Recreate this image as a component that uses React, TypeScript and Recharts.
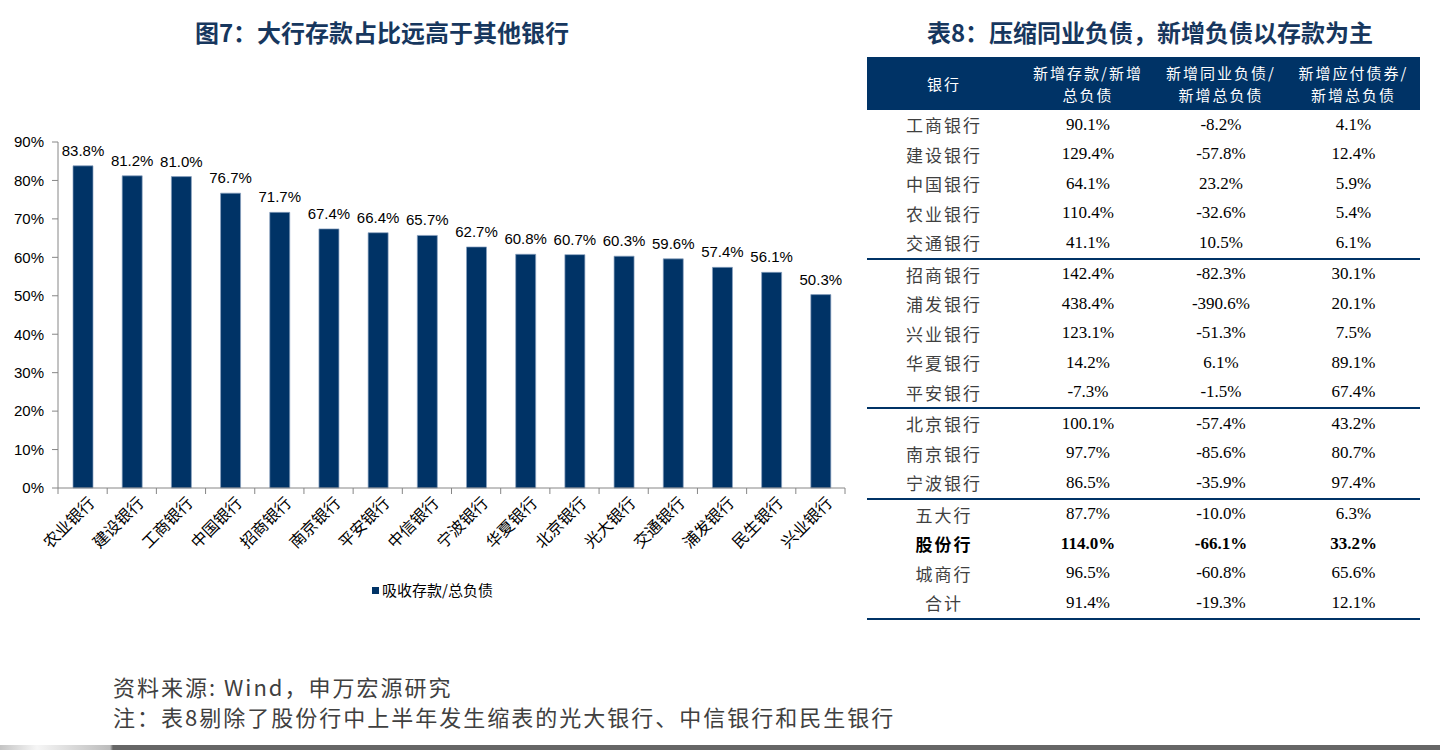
import React from "react";
import { BarChart, Bar, XAxis, YAxis, LabelList } from "recharts";

const categories = [
  "农业银行", "建设银行", "工商银行", "中国银行", "招商银行", "南京银行", "平安银行", "中信银行",
  "宁波银行", "华夏银行", "北京银行", "光大银行", "交通银行", "浦发银行", "民生银行", "兴业银行",
];
const depositShare = [83.8, 81.2, 81.0, 76.7, 71.7, 67.4, 66.4, 65.7, 62.7, 60.8, 60.7, 60.3, 59.6, 57.4, 56.1, 50.3];
const yTicks = [0, 10, 20, 30, 40, 50, 60, 70, 80, 90];
const seriesName = "吸收存款/总负债";

const tableHeaders = [["银行"], ["新增存款/新增", "总负债"], ["新增同业负债/", "新增总负债"], ["新增应付债券/", "新增总负债"]];
const tableGroups = [
  ["工商银行", "建设银行", "中国银行", "农业银行", "交通银行"],
  ["招商银行", "浦发银行", "兴业银行", "华夏银行", "平安银行"],
  ["北京银行", "南京银行", "宁波银行"],
  ["五大行", "股份行", "城商行", "合计"],
];
const newDeposit = [90.1, 129.4, 64.1, 110.4, 41.1, 142.4, 438.4, 123.1, 14.2, -7.3, 100.1, 97.7, 86.5, 87.7, 114.0, 96.5, 91.4];
const newInterbank = [-8.2, -57.8, 23.2, -32.6, 10.5, -82.3, -390.6, -51.3, 6.1, -1.5, -57.4, -85.6, -35.9, -10.0, -66.1, -60.8, -19.3];
const newBonds = [4.1, 12.4, 5.9, 5.4, 6.1, 30.1, 20.1, 7.5, 89.1, 67.4, 43.2, 80.7, 97.4, 6.3, 33.2, 65.6, 12.1];
const boldRows = ["股份行"];

const NAVY = "#003366";
const AXIS = "#868686";
const CHART_W = 860;
const Y_AXIS_W = 58;
const MARGIN_R = 15;
const BAND = (CHART_W - Y_AXIS_W - MARGIN_R) / categories.length;
const COL_W = [154, 134, 132, 133];

const chartData = categories.map((bank, i) => ({ bank, share: depositShare[i] }));
const pct = (v: number) => `${v.toFixed(1)}%`;

function BankTick(props: any) {
  const { x, y, payload, index } = props;
  const last = index === categories.length - 1;
  return (
    <g>
      <line x1={x - BAND / 2} y1={y} x2={x - BAND / 2} y2={y + 6} stroke={AXIS} />
      {last && <line x1={x + BAND / 2} y1={y} x2={x + BAND / 2} y2={y + 6} stroke={AXIS} />}
      <g transform={`translate(${x + 9},${y + 12})`}>
        <text
          transform="rotate(-45)"
          textAnchor="end"
          dy="0.35em"
          fontSize={16}
          fill="#000"
          fontFamily="'Noto Sans CJK SC', sans-serif"
        >
          {payload.value}
        </text>
      </g>
    </g>
  );
}

function DataTable() {
  let rowIdx = 0;
  return (
    <div style={{ position: "absolute", left: 867, top: 57, width: 553 }}>
      <div style={{ display: "flex", height: 53, background: NAVY, color: "#fff" }}>
        {tableHeaders.map((lines, i) => (
          <div
            key={i}
            style={{
              width: COL_W[i],
              display: "flex",
              flexDirection: "column",
              justifyContent: "center",
              alignItems: "center",
              fontSize: 15,
              lineHeight: "22px",
              letterSpacing: 2,
            }}
          >
            {lines.map((l) => (
              <div key={l}>{l}</div>
            ))}
          </div>
        ))}
      </div>
      {tableGroups.map((group, g) => (
        <div key={g} style={{ borderBottom: `2px solid ${NAVY}` }}>
          {group.map((name) => {
            const i = rowIdx++;
            const bold = boldRows.includes(name);
            const vals = [newDeposit[i], newInterbank[i], newBonds[i]];
            return (
              <div key={name} style={{ display: "flex", height: 29.5, alignItems: "center" }}>
                <div
                  style={{
                    width: COL_W[0],
                    textAlign: "center",
                    fontSize: 17,
                    letterSpacing: 2,
                    color: bold ? "#000" : "#404040",
                    fontWeight: bold ? 700 : 400,
                  }}
                >
                  {name}
                </div>
                {vals.map((v, k) => (
                  <div
                    key={k}
                    style={{
                      width: COL_W[k + 1],
                      textAlign: "center",
                      fontSize: 17,
                      fontFamily: "'Liberation Serif', serif",
                      fontWeight: bold ? 700 : 400,
                      color: "#000",
                    }}
                  >
                    {pct(v)}
                  </div>
                ))}
              </div>
            );
          })}
        </div>
      ))}
    </div>
  );
}

export default function App() {
  return (
    <div
      style={{
        position: "absolute",
        left: 0,
        top: 0,
        width: 1440,
        height: 750,
        background: "#fff",
        overflow: "hidden",
        fontFamily: "'Noto Sans CJK SC', sans-serif",
      }}
    >
      <div
        style={{
          position: "absolute", left: 132, top: 16, width: 500, textAlign: "center",
          fontSize: 24, lineHeight: "32px", fontWeight: 700, color: "#17375e", whiteSpace: "nowrap",
        }}
      >
        图7：大行存款占比远高于其他银行
      </div>
      <div
        style={{
          position: "absolute", left: 900, top: 16, width: 500, textAlign: "center",
          fontSize: 24, lineHeight: "32px", fontWeight: 700, color: "#17375e", whiteSpace: "nowrap",
        }}
      >
        表8：压缩同业负债，新增负债以存款为主
      </div>

      <div style={{ position: "absolute", left: 0, top: 0 }}>
        <BarChart
          width={CHART_W}
          height={620}
          data={chartData}
          margin={{ top: 142, right: MARGIN_R, left: 0, bottom: 0 }}
        >
          <XAxis
            dataKey="bank"
            height={132}
            interval={0}
            tickLine={false}
            tickSize={0}
            tickMargin={0}
            axisLine={{ stroke: AXIS }}
            tick={<BankTick />}
          />
          <YAxis
            width={Y_AXIS_W}
            domain={[0, 90]}
            ticks={yTicks}
            interval={0}
            tickFormatter={(v: number) => `${v}%`}
            tickSize={6}
            tickMargin={8}
            axisLine={{ stroke: AXIS }}
            tickLine={{ stroke: AXIS }}
            tick={{ fontSize: 15, fill: "#000", fontFamily: "'Liberation Sans', Arial, sans-serif" }}
          />
          <Bar
            dataKey="share"
            name={seriesName}
            fill={NAVY}
            stroke="#8aa2c0"
            strokeWidth={0.7}
            barSize={20}
            isAnimationActive={false}
          >
            <LabelList
              dataKey="share"
              position="top"
              offset={10}
              formatter={(v: any) => pct(Number(v))}
              fill="#000"
              fontSize={15}
              fontFamily="'Liberation Sans', Arial, sans-serif"
            />
          </Bar>
        </BarChart>
      </div>

      <div
        style={{
          position: "absolute", left: 372, top: 579, display: "flex", alignItems: "center",
          fontSize: 15, lineHeight: "22px", color: "#000",
        }}
      >
        <span style={{ width: 7, height: 7, background: NAVY, marginRight: 3, display: "inline-block" }} />
        {seriesName}
      </div>

      <DataTable />

      <div
        style={{
          position: "absolute", left: 113, top: 671, fontSize: 22, lineHeight: "30px",
          letterSpacing: 2, color: "#404040", whiteSpace: "nowrap",
        }}
      >
        <div>资料来源: Wind，申万宏源研究</div>
        <div>注：表8剔除了股份行中上半年发生缩表的光大银行、中信银行和民生银行</div>
      </div>

      <div
        style={{
          position: "absolute", left: 0, top: 745, width: 1440, height: 5,
          background: "linear-gradient(to right, #c4c4c4 0px, #f6f6f6 37px, #bcbcbc 110px, #666 113px, #666 100%)",
        }}
      />
    </div>
  );
}
